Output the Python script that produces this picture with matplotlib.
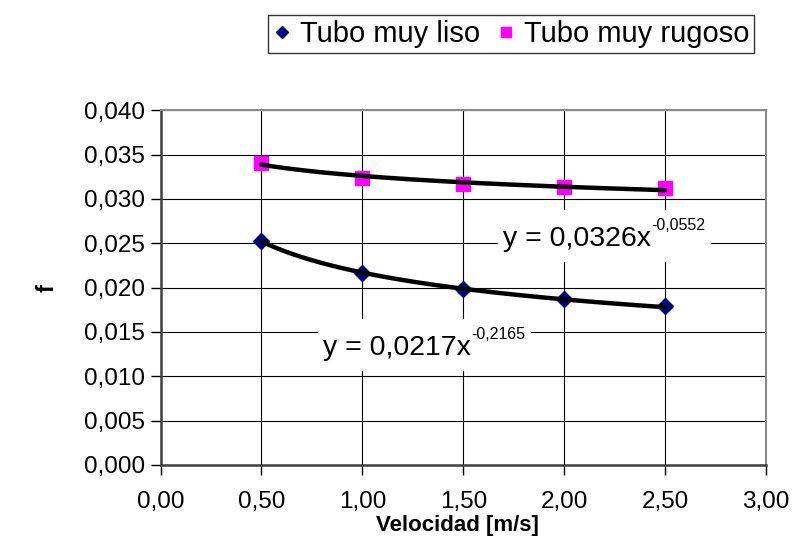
import matplotlib
matplotlib.use("Agg")
import matplotlib.pyplot as plt
import numpy as np
from matplotlib.ticker import FuncFormatter, MultipleLocator
from matplotlib.patches import Rectangle
from matplotlib.transforms import IdentityTransform, Bbox

plt.rcParams['font.family'] = ['Liberation Sans', 'DejaVu Sans']

# Data
velocidad = [0.5, 1.0, 1.5, 2.0, 2.5]
f_liso = [0.0253, 0.0216, 0.0198, 0.0187, 0.0179]
f_rugoso = [0.0341, 0.0324, 0.0317, 0.0314, 0.0312]
# Power trendline coefficients (y = a * x^b) as printed on the chart
liso_a, liso_b = 0.0217, -0.2165
rug_a, rug_b = 0.0326, -0.0552
eq_liso_main, eq_liso_sup = "y = 0,0217x", "-0,2165"
eq_rug_main, eq_rug_sup = "y = 0,0326x", "-0,0552"
labels = ["Tubo muy liso", "Tubo muy rugoso"]
xlabel = "Velocidad [m/s]"
ylabel = "f"

W, H = 795, 548
fig = plt.figure(figsize=(W / 100, H / 100), dpi=100)
L, R, T, B = 160.5, 766, 110.3, 465
ax = fig.add_axes([L / W, 1 - B / H, (R - L) / W, (B - T) / H])

ax.set_xlim(0, 3.0)
ax.set_ylim(0, 0.040)
ax.xaxis.set_major_locator(MultipleLocator(0.5))
ax.yaxis.set_major_locator(MultipleLocator(0.005))
ax.xaxis.set_major_formatter(FuncFormatter(lambda v, p: f"{v:.2f}".replace('.', ',')))
ax.yaxis.set_major_formatter(FuncFormatter(lambda v, p: f"{v:.3f}".replace('.', ',')))

ax.grid(True, color='black', linewidth=0.8, zorder=0)
ax.set_axisbelow(True)

for s in ['top', 'right']:
    ax.spines[s].set_color('#8a8a8a')
    ax.spines[s].set_linewidth(1.5)
for s in ['left', 'bottom']:
    ax.spines[s].set_color('#404040')
    ax.spines[s].set_linewidth(1.8)

ax.tick_params(axis='both', direction='out', length=7, width=1, color='black',
               labelsize=17.5, labelcolor='black')
ax.tick_params(axis='x', pad=12)
ax.tick_params(axis='y', pad=4)

# markers
h1, = ax.plot(velocidad, f_liso, linestyle='none', marker='D', markersize=8.5,
              color='#000080', zorder=3, label=labels[0])
h2, = ax.plot(velocidad, f_rugoso, linestyle='none', marker='s', markersize=9.5,
              color='#FF00FF', zorder=3, label=labels[1])

# trendlines
xs = np.linspace(min(velocidad), max(velocidad), 200)
ax.plot(xs, liso_a * xs ** liso_b, color='black', linewidth=3.2, zorder=4,
        solid_capstyle='round')
ax.plot(xs, rug_a * xs ** rug_b, color='black', linewidth=3.2, zorder=4,
        solid_capstyle='round')

def px2data(px, py):
    return ((px - L) / (R - L) * 3.0, (B - py) / (B - T) * 0.040)

EQ_FS = 20.5
eqs = []
def equation(px, py_base, main, sup):
    x, y = px2data(px, py_base)
    t = ax.text(x, y, main, fontsize=EQ_FS, ha='left', va='baseline', zorder=5)
    s = ax.annotate(sup, xy=(1, 0), xycoords=t, xytext=(1, 22),
                    textcoords='offset pixels', fontsize=11.5, ha='left',
                    va='baseline', zorder=5)
    eqs.append((t, s))

equation(502.7, 246, eq_rug_main, eq_rug_sup)
equation(322.7, 355, eq_liso_main, eq_liso_sup)

fig.text(457 / W, 1 - 525 / H, xlabel, fontsize=16, fontweight='bold',
         ha='center', va='center')
fig.text(47 / W, 1 - 288 / H, ylabel, fontsize=17, fontweight='bold',
         ha='center', va='center', rotation=90)

leg = fig.legend(handles=[h1, h2], labels=labels, loc='upper right',
                 bbox_to_anchor=(754 / W, 1 - 15 / H), fontsize=21,
                 frameon=True, fancybox=False, shadow=False, ncol=2,
                 handlelength=0.6, handletextpad=0.3, columnspacing=0.6,
                 borderpad=0.17, borderaxespad=0, markerscale=0.75)
leg.get_frame().set_edgecolor('black')
leg.get_frame().set_linewidth(1.0)

# white label boxes behind the trendline equations
fig.canvas.draw()
rend = fig.canvas.get_renderer()
for t, s in eqs:
    bb = Bbox.union([t.get_window_extent(rend), s.get_window_extent(rend)])
    rect = Rectangle((bb.x0 - 5, bb.y0 - 10), bb.width + 10, bb.height + 18,
                     transform=IdentityTransform(), facecolor='white',
                     edgecolor='none', zorder=4.5)
    ax.add_patch(rect)

fig.savefig('out.png', dpi=100)
